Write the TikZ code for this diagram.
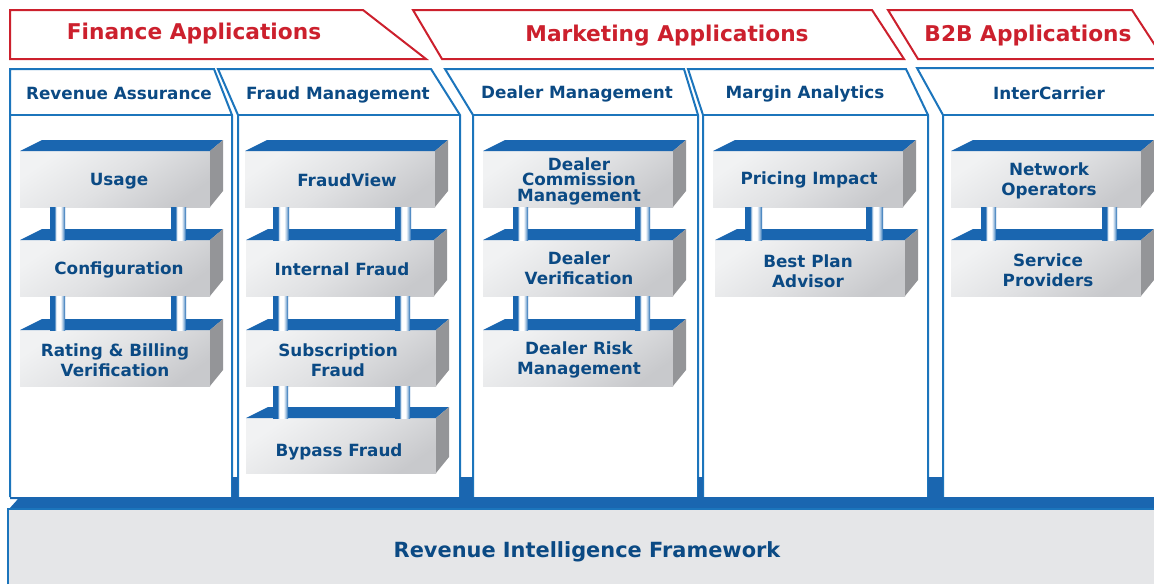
\documentclass[tikz,border=0pt]{standalone}
\usepackage{fontspec}
\setmainfont{DejaVu Sans}
\usetikzlibrary{calc}
\definecolor{lineblue}{HTML}{1C75BC}
\definecolor{bandblue}{HTML}{1A66B0}
\definecolor{textblue}{HTML}{0B4A84}
\definecolor{redc}{HTML}{CC202D}
\definecolor{fw}{HTML}{E5E6E8}
\definecolor{sidegray}{HTML}{949598}
\definecolor{frontA}{HTML}{F1F2F3}
\definecolor{frontB}{HTML}{E0E1E3}
\definecolor{frontC}{HTML}{C8C9CC}
\pgfdeclarehorizontalshading{pillarshade}{100bp}{color(0bp)=(bandblue); color(40bp)=(bandblue); color(44bp)=(white!80!bandblue); color(48bp)=(white); color(60bp)=(white); color(68bp)=(bandblue!45!white); color(75bp)=(bandblue); color(100bp)=(bandblue)}
\tikzset{
  banner/.style={draw=redc,line width=2pt,fill=white},
  bannertext/.style={text=redc,font=\bfseries\fontsize{21.7}{24}\selectfont,inner sep=0pt},
  panel/.style={draw=lineblue,line width=2pt,fill=white,line join=miter},
  headtext/.style={text=textblue,font=\bfseries\fontsize{16.8}{18}\selectfont,inner sep=0pt},
  boxtext/.style={text=textblue,font=\bfseries\fontsize{16.8}{#1}\selectfont,inner sep=0pt,align=center},
  boxtext/.default=19.5,
  front/.style={anchor=north west,inner sep=0pt,outer sep=0pt,shading=axis,top color=frontA,bottom color=frontC,middle color=frontB,shading angle=35},
  pillar/.style={shading=pillarshade},
  faceTop/.style={fill=bandblue},
  faceSide/.style={fill=sidegray},
}
% \cube{name}{x}{ytop}{width}{height}
\newcommand{\cube}[5]{%
  \node[front,minimum width=#4pt,minimum height=#5pt] (#1) at (#2,#3) {};
  \fill[faceTop] (#1.north west) -- ([shift={(22pt,11pt)}]#1.north west) -- ([shift={(13pt,11pt)}]#1.north east) -- (#1.north east) -- cycle;
  \fill[faceSide] (#1.north east) -- ([shift={(13pt,11pt)}]#1.north east) -- ([shift={(13pt,16pt)}]#1.south east) -- (#1.south east) -- cycle;
}
% \pillars{upper}{lower}{off1}{off2}
\newcommand{\pillars}[4]{%
  \path[pillar] ([xshift=#3pt]#1.south west) rectangle ([xshift=#3pt+15pt]#2.north west);
  \path[pillar] ([xshift=#4pt]#1.south west) rectangle ([xshift=#4pt+15pt]#2.north west);
}
\begin{document}
\begin{tikzpicture}[x=1pt,y=-1pt]
\useasboundingbox (0,0) rectangle (1154,584);
\begin{scope}
\clip (0,0) rectangle (1154,584);
% banners
\draw[banner] (10,10) -- (363,10) -- (426,59) -- (10,59) -- cycle;
\draw[banner] (413,10) -- (872,10) -- (904,59) -- (442,59) -- cycle;
\draw[banner] (888,10) -- (1132,10) -- (1164,59) -- (918,59) -- cycle;
\node[bannertext] (bfin) at (194,34) {Finance Applications};
\node[bannertext] (bmkt) at (667,36) {Marketing Applications};
\node[bannertext] (bb2b) at (1028,36) {B2B Applications};
% panels
\draw[panel] (10,497) -- (10,69) -- (214,69) -- (232,115) -- (232,497);
\draw[panel] (10,115) -- (232,115);
\draw[panel] (238,497) -- (238,115) -- (218,69) -- (431,69) -- (460,115) -- (460,497);
\draw[panel] (238,115) -- (460,115);
\draw[panel] (473,497) -- (473,115) -- (445,69) -- (684,69) -- (698,115) -- (698,497);
\draw[panel] (473,115) -- (698,115);
\draw[panel] (703,497) -- (703,115) -- (688,69) -- (906,69) -- (928,115) -- (928,497);
\draw[panel] (703,115) -- (928,115);
\draw[panel] (943,497) -- (943,115) -- (917,68) -- (1160,68);
\draw[panel] (943,115) -- (1160,115);
% blue fills between panels
\fill[bandblue] (232,477) rectangle (238,498);
\fill[bandblue] (460,477) rectangle (473,498);
\fill[bandblue] (698,477) rectangle (703,498);
\fill[bandblue] (928,477) rectangle (943,498);
% base band and framework
\fill[bandblue] (10,497) -- (1154,497) -- (1154,509) -- (9,509) -- (18,499) -- (10,499) -- cycle;
\fill[fw] (8,509) rectangle (1154,584);
\draw[lineblue,line width=1.2pt] (8,584) -- (8,509) -- (1154,509);
\node[text=textblue,font=\bfseries\fontsize{20.9}{24}\selectfont,inner sep=0pt] (frame) at (587,552) {Revenue Intelligence Framework};
% headers
\node[headtext] (h1) at (119,93) {Revenue Assurance};
\node[headtext] (h2) at (338,95) {Fraud Management};
\node[headtext] (h3) at (577,94) {Dealer Management};
\node[headtext] (h4) at (805,94) {Margin Analytics};
\node[headtext] (h5) at (1049,93) {InterCarrier};
% column 1
\cube{a1}{20}{151}{190}{56}
\cube{a2}{20}{240}{190}{56}
\cube{a3}{20}{330}{190}{56}
\pillars{a1}{a2}{30}{151}
\pillars{a2}{a3}{30}{151}
\node[boxtext] (ta1) at (119,181) {Usage};
\node[boxtext] (ta2) at (119,270) {Configuration};
\node[boxtext] (ta3) at (115,360) {Rating \& Billing\\Verification};
% column 2
\cube{b1}{245}{151}{190}{56}
\cube{b2}{246}{240}{188}{56}
\cube{b3}{246}{330}{190}{56}
\cube{b4}{246}{418}{190}{55}
\pillars{b1}{b2}{28}{150}
\pillars{b2}{b3}{27}{149}
\pillars{b3}{b4}{27}{149}
\node[boxtext] (tb1) at (347,180) {FraudView};
\node[boxtext] (tb2) at (342,269) {Internal Fraud};
\node[boxtext] (tb3) at (338,360) {Subscription\\Fraud};
\node[boxtext] (tb4) at (339,452) {Bypass Fraud};
% column 3
\cube{c1}{483}{151}{190}{56}
\cube{c2}{483}{240}{190}{56}
\cube{c3}{483}{330}{190}{56}
\pillars{c1}{c2}{30}{152}
\pillars{c2}{c3}{30}{152}
\node[boxtext=15.5] (tc1) at (579,181) {Dealer\\Commission\\Management};
\node[boxtext] (tc2) at (579,268) {Dealer\\Verification};
\node[boxtext] (tc3) at (579,360) {Dealer Risk\\Management};
% column 4
\cube{d1}{713}{151}{190}{56}
\cube{d2}{715}{240}{190}{56}
\pillars{d1}{d2}{32}{153}
\node[boxtext] (td1) at (809,180) {Pricing Impact};
\node[boxtext] (td2) at (808,271) {Best Plan\\Advisor};
% column 5
\cube{e1}{951}{151}{190}{56}
\cube{e2}{951}{240}{190}{56}
\pillars{e1}{e2}{30}{151}
\node[boxtext] (te1) at (1049,181) {Network\\Operators};
\node[boxtext] (te2) at (1048,270) {Service\\Providers};
\end{scope}
\end{tikzpicture}
\end{document}
